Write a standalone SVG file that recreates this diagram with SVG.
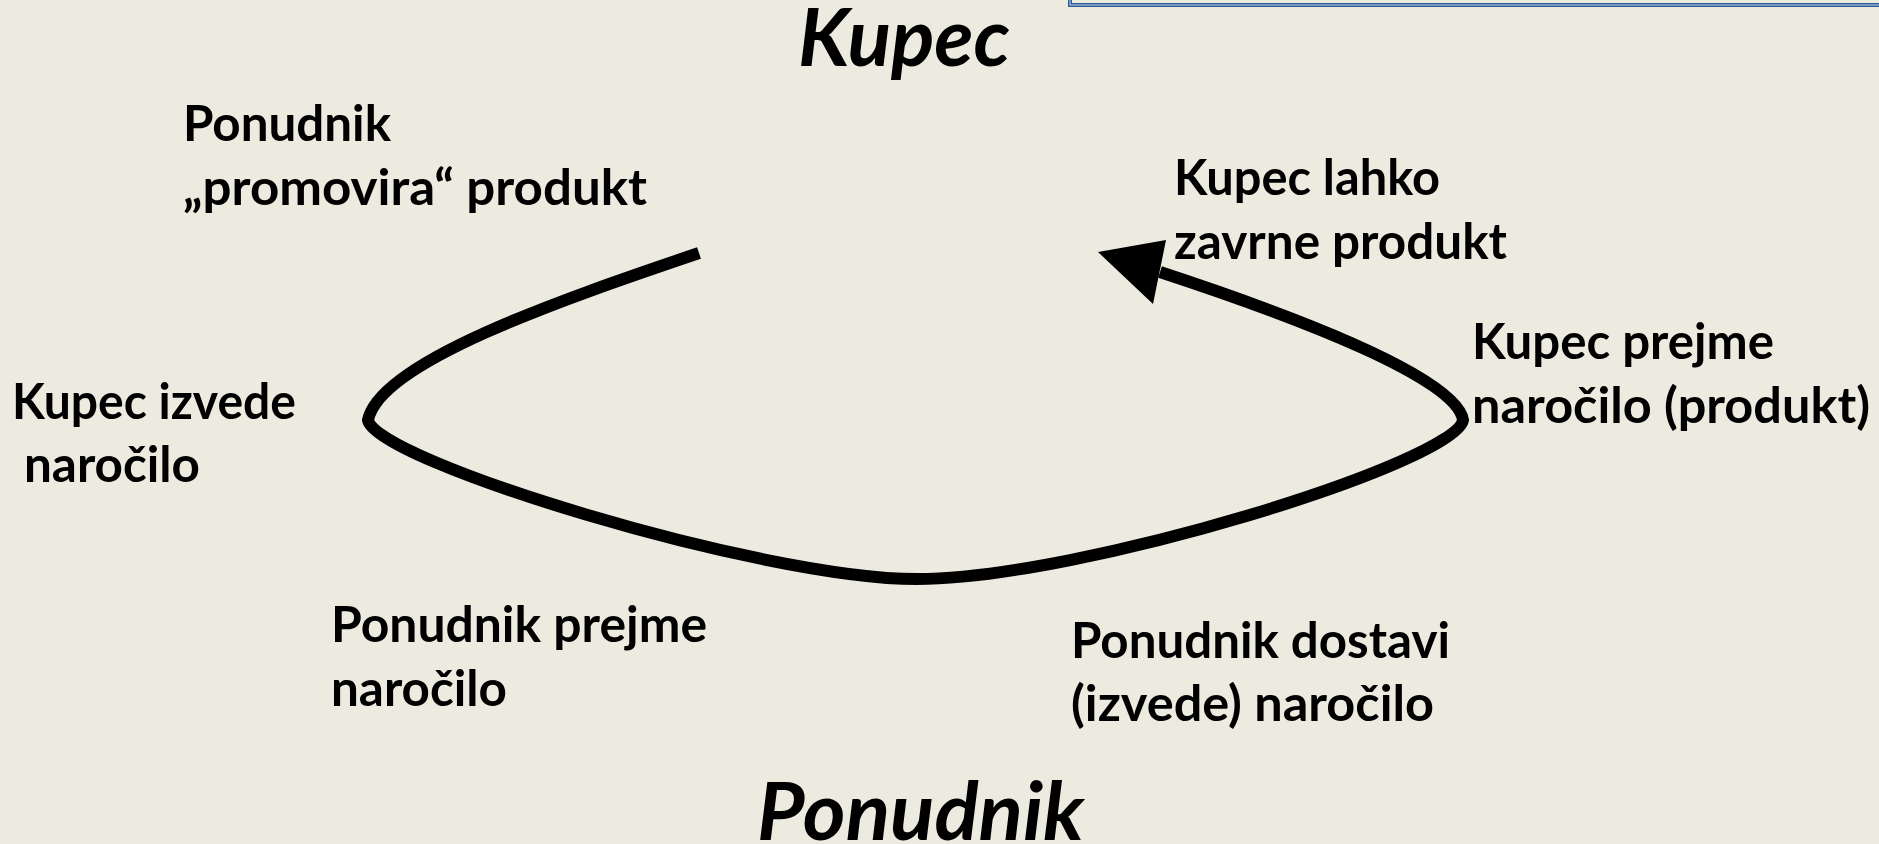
<svg xmlns="http://www.w3.org/2000/svg" width="1879" height="844" viewBox="0 0 1879 844">
  <style>
    .lbl { font-family: Lato, "Open Sans", "Liberation Sans", sans-serif; font-weight: 700; font-size: 49px; fill: #000; }
    .ttl { font-family: Lato, "Open Sans", "Liberation Sans", sans-serif; font-weight: 700; font-style: italic; font-size: 80px; fill: #000; }
    .cycle { fill: none; stroke: #000; stroke-width: 12; stroke-linecap: butt; stroke-linejoin: round; }
  </style>
  <rect width="1879" height="844" fill="#EDEBE0"/>

  <!-- framed box reaching in from the top edge -->
  <g id="topbox">
    <rect x="1070" y="-20" width="830" height="25" fill="none" stroke="#2F5C96" stroke-width="4"/>
    <rect x="1070" y="-20" width="830" height="25" fill="none" stroke="#A9C0DD" stroke-width="1.2"/>
  </g>

  <g id="title-kupec">
    <text class="ttl" x="798" y="66" textLength="212" lengthAdjust="spacingAndGlyphs">Kupec</text>
  </g>
  <g id="title-ponudnik">
    <text class="ttl" x="757" y="840" textLength="327" lengthAdjust="spacingAndGlyphs">Ponudnik</text>
  </g>

  <!-- transaction cycle -->
  <g id="connectors">
    <path class="cycle" d="M699,253 C560,300 380,362 368,420 C374,460 760,579 917,579 C1080,579 1457,462 1463,420 C1457,378 1300,318 1160,272"/>
    <polygon points="1098,252 1166,240 1153,304" fill="#000"/>
  </g>

  <g id="step-promovira">
    <text class="lbl" x="183" y="141" textLength="208" lengthAdjust="spacingAndGlyphs">Ponudnik</text>
    <text class="lbl" x="183" y="205" textLength="464" lengthAdjust="spacingAndGlyphs">„promovira“ produkt</text>
  </g>
  <g id="step-izvede">
    <text class="lbl" x="12" y="419" textLength="284" lengthAdjust="spacingAndGlyphs">Kupec izvede</text>
    <text class="lbl" x="24" y="482" textLength="176" lengthAdjust="spacingAndGlyphs">naročilo</text>
  </g>
  <g id="step-prejme-ponudnik">
    <text class="lbl" x="331" y="642" textLength="376" lengthAdjust="spacingAndGlyphs">Ponudnik prejme</text>
    <text class="lbl" x="331" y="706" textLength="176" lengthAdjust="spacingAndGlyphs">naročilo</text>
  </g>
  <g id="step-dostavi">
    <text class="lbl" x="1071" y="658" textLength="379" lengthAdjust="spacingAndGlyphs">Ponudnik dostavi</text>
    <text class="lbl" x="1071" y="721" textLength="363" lengthAdjust="spacingAndGlyphs">(izvede) naročilo</text>
  </g>
  <g id="step-prejme-kupec">
    <text class="lbl" x="1472" y="359" textLength="302" lengthAdjust="spacingAndGlyphs">Kupec prejme</text>
    <text class="lbl" x="1472" y="423" textLength="398" lengthAdjust="spacingAndGlyphs">naročilo (produkt)</text>
  </g>
  <g id="step-zavrne">
    <text class="lbl" x="1174" y="195" textLength="266" lengthAdjust="spacingAndGlyphs">Kupec lahko</text>
    <text class="lbl" x="1174" y="259" textLength="333" lengthAdjust="spacingAndGlyphs">zavrne produkt</text>
  </g>
</svg>
